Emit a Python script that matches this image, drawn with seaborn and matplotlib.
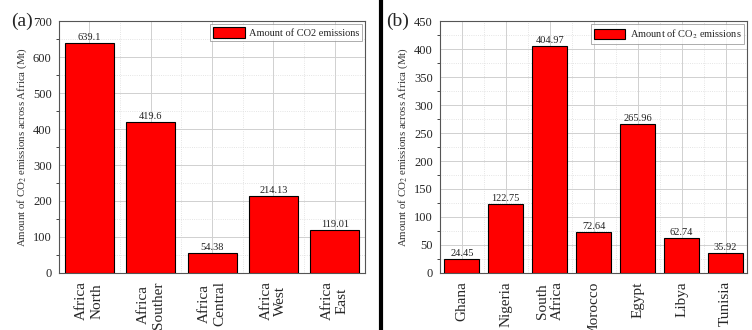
import numpy as np
import pandas as pd
import matplotlib
matplotlib.use('Agg')
import matplotlib.pyplot as plt
import seaborn as sb
from matplotlib.ticker import MultipleLocator
from matplotlib.patches import Patch

# ---------------- data ----------------
regions = ['Africa\nNorth', 'Africa\nSouther', 'Africa\nCentral', 'Africa\nWest', 'Africa\nEast']
region_co2 = [639.1, 419.6, 54.38, 214.13, 119.01]
region_labels = ['639.1', '419.6', '54.38', '214.13', '119.01']

countries = ['Ghana', 'Nigeria', 'South\nAfrica', 'Morocco', 'Egypt', 'Libya', 'Tunisia']
country_co2 = [24.45, 122.75, 404.97, 72.64, 265.96, 62.74, 35.92]
country_labels = ['24.45', '122.75', '404.97', '72.64', '265.96', '62.74', '35.92']

sb.set_style('white')
plt.rcParams['font.family'] = ['Liberation Serif', 'DejaVu Serif']
plt.rcParams['mathtext.fontset'] = 'stix'

fig = plt.figure(figsize=(7.52, 3.3), dpi=100)
ax1 = fig.add_axes([0.078, 0.173, 0.408, 0.763])
ax2 = fig.add_axes([0.585, 0.173, 0.409, 0.763])

# separator line between panels
fig.add_artist(plt.Line2D([0.507, 0.507], [0.0, 1.0], color='black', lw=3))


def panel(ax, cats, vals, labs, ymax, major, legend_text, tag, tag_x):
    df = pd.DataFrame({'cat': cats, 'val': vals})
    sb.barplot(data=df, x='cat', y='val', color='#ff0000', saturation=1,
               edgecolor='black', linewidth=0.8, width=0.8, ax=ax, zorder=3)
    ax.set_xlim(-0.5, len(cats) - 0.5)
    ax.set_ylim(0, ymax)
    ax.yaxis.set_major_locator(MultipleLocator(major))
    ax.yaxis.set_minor_locator(MultipleLocator(major / 2))
    ax.xaxis.set_minor_locator(MultipleLocator(0.5))
    ax.grid(which='major', color='#d0d0d0', lw=0.7, zorder=0)
    ax.grid(which='minor', color='#dcdcdc', lw=0.6, ls=':', zorder=0)
    ax.tick_params(axis='x', which='minor', length=0)
    ax.tick_params(axis='both', which='major', direction='out', length=4, width=0.8, color='#333333')
    ax.tick_params(axis='y', which='minor', direction='out', length=2, width=0.6, left=True)
    ax.tick_params(axis='y', labelsize=9, pad=1)
    ax.tick_params(axis='x', labelsize=11, labelrotation=90, pad=2)
    for s in ax.spines.values():
        s.set_color('#555555')
        s.set_linewidth(0.8)
    ax.set_xlabel('')
    ax.set_ylabel('Amount of CO$_2$ emissions across Africa (Mt)', fontsize=7.8, color='#333333', labelpad=3)
    for i, (v, t) in enumerate(zip(vals, labs)):
        ax.text(i, v + ymax * 0.005, t, ha='center', va='bottom', fontsize=7.5, color='#222222', zorder=4)
    h = Patch(facecolor='#ff0000', edgecolor='black', lw=0.8)
    leg = ax.legend([h], [legend_text], loc='upper right', fontsize=7.5, frameon=True,
                    fancybox=False, borderaxespad=0.3, handlelength=3.0, handleheight=1.2,
                    borderpad=0.3, handletextpad=0.4)
    leg.get_frame().set_edgecolor('#888888')
    leg.get_frame().set_linewidth(0.6)
    ax.text(tag_x, 1.0, tag, transform=ax.transAxes, fontsize=14, ha='left', va='center')


panel(ax1, regions, region_co2, region_labels, 700, 100, 'Amount of CO2 emissions', '(a)', -0.155)
panel(ax2, countries, country_co2, country_labels, 450, 50, 'Amount of CO$_2$ emissions', '(b)', -0.175)

fig.savefig('out.png', dpi=100)
